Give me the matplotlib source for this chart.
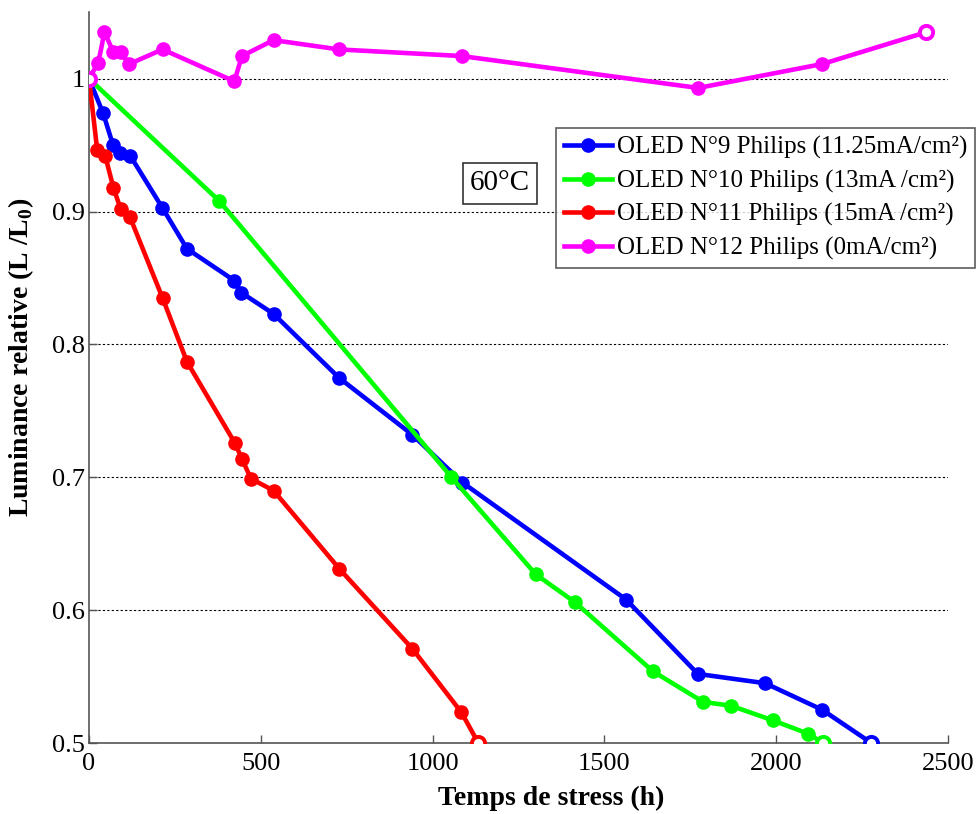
import matplotlib
matplotlib.use("Agg")
import matplotlib.pyplot as plt

# --- Data --------------------------------------------------------------------

t9 = [0, 41, 70, 90, 120, 213, 285, 423, 443, 537, 727, 941, 1087, 1563, 1772, 1968, 2134, 2277]
l9 = [1.0, 0.974, 0.950, 0.944, 0.942, 0.903, 0.872, 0.848, 0.839, 0.823, 0.775, 0.732, 0.696,
      0.608, 0.552, 0.545, 0.525, 0.500]

t10 = [0, 379, 1055, 1300, 1414, 1641, 1787, 1869, 1991, 2093, 2137]
l10 = [1.0, 0.908, 0.700, 0.627, 0.606, 0.554, 0.531, 0.528, 0.517, 0.507, 0.500]

t11 = [0, 24, 47, 71, 92, 119, 214, 285, 424, 445, 471, 537, 729, 941, 1084, 1133]
l11 = [1.0, 0.946, 0.942, 0.918, 0.902, 0.896, 0.835, 0.787, 0.726, 0.714, 0.699, 0.690,
       0.631, 0.571, 0.523, 0.500]

t12 = [0, 27, 45, 71, 92, 117, 214, 423, 445, 537, 727, 1085, 1773, 2134, 2437]
l12 = [1.0, 1.012, 1.035, 1.020, 1.020, 1.011, 1.022, 0.998, 1.017, 1.029, 1.022, 1.017,
       0.993, 1.011, 1.035]

labels = [
    "OLED N°9 Philips (11.25mA/cm²)",
    "OLED N°10 Philips (13mA /cm²)",
    "OLED N°11 Philips (15mA /cm²)",
    "OLED N°12 Philips (0mA/cm²)",
]
x_ticks = [0, 500, 1000, 1500, 2000, 2500]
y_ticks = [0.5, 0.6, 0.7, 0.8, 0.9, 1.0]
y_tick_labels = ["0.5", "0.6", "0.7", "0.8", "0.9", "1"]

# --- Style -------------------------------------------------------------------

COLORS = ["#0000FF", "#00FF00", "#FF0000", "#FF00FF"]
plt.rcParams["font.family"] = ["Liberation Serif", "DejaVu Serif"]
plt.rcParams["mathtext.fontset"] = "custom"
plt.rcParams["mathtext.rm"] = "Liberation Serif"
plt.rcParams["mathtext.bf"] = "Liberation Serif:bold"

fig = plt.figure(figsize=(9.76, 8.14), dpi=100)
ax = fig.add_axes([0.0912, 0.0872, 0.8801, 0.8978])

series = [(t9, l9), (t10, l10), (t11, l11), (t12, l12)]
for (t, l), c, lab in zip(series, COLORS, labels):
    ax.plot(t, l, color=c, lw=3.3, marker="o", ms=9.5, label=lab, zorder=3)
    # open marker at the end point
    ax.plot(t[-1], l[-1], marker="o", ms=9.5, mfc="white", mec=c, mew=2.8,
            ls="none", zorder=4)
# open marker at the start of N°12
ax.plot(t12[0], l12[0], marker="o", ms=9.5, mfc="white", mec=COLORS[3], mew=2.8,
        ls="none", zorder=4)

ax.set_xlim(0, 2500)
ax.set_ylim(0.5, 1.05)
ax.set_xticks(x_ticks)
ax.set_yticks(y_ticks)
ax.set_yticklabels(y_tick_labels)
ax.tick_params(direction="in", length=6, width=1, colors="#555555",
               labelcolor="black", labelsize=19)
ax.tick_params(axis="x", pad=7)
ax.tick_params(axis="y", pad=3)

ax.yaxis.grid(True, linestyle=(0, (2, 2)), color="black", linewidth=0.8)
ax.set_axisbelow(True)
for s in ["top", "right"]:
    ax.spines[s].set_visible(False)
for s in ["left", "bottom"]:
    ax.spines[s].set_color("#555555")
    ax.spines[s].set_linewidth(1.2)

ax.set_xlabel("Temps de stress (h)", fontsize=20, fontweight="bold")
ax.xaxis.set_label_coords(0.538, -0.058)
ax.set_ylabel(r"Luminance relative (L /L$_{\mathbf{0}}$)", fontsize=20,
              fontweight="bold")
ax.yaxis.set_label_coords(-0.062, 0.527)

leg = ax.legend(loc="upper left", bbox_to_anchor=(0.5437, 0.8413), fontsize=18,
                frameon=True, fancybox=False, edgecolor="#333333",
                handlelength=1.9, handletextpad=0.2, labelspacing=0.42,
                borderpad=0.32, borderaxespad=0)
leg.get_frame().set_linewidth(1.2)
leg.set_zorder(5)

ax.text(0.4785, 0.766, "60°C", transform=ax.transAxes, fontsize=21,
        ha="center", va="center",
        bbox=dict(boxstyle="square,pad=0.25", fc="white", ec="#333333", lw=1.2))

fig.savefig("out.png", dpi=100)
